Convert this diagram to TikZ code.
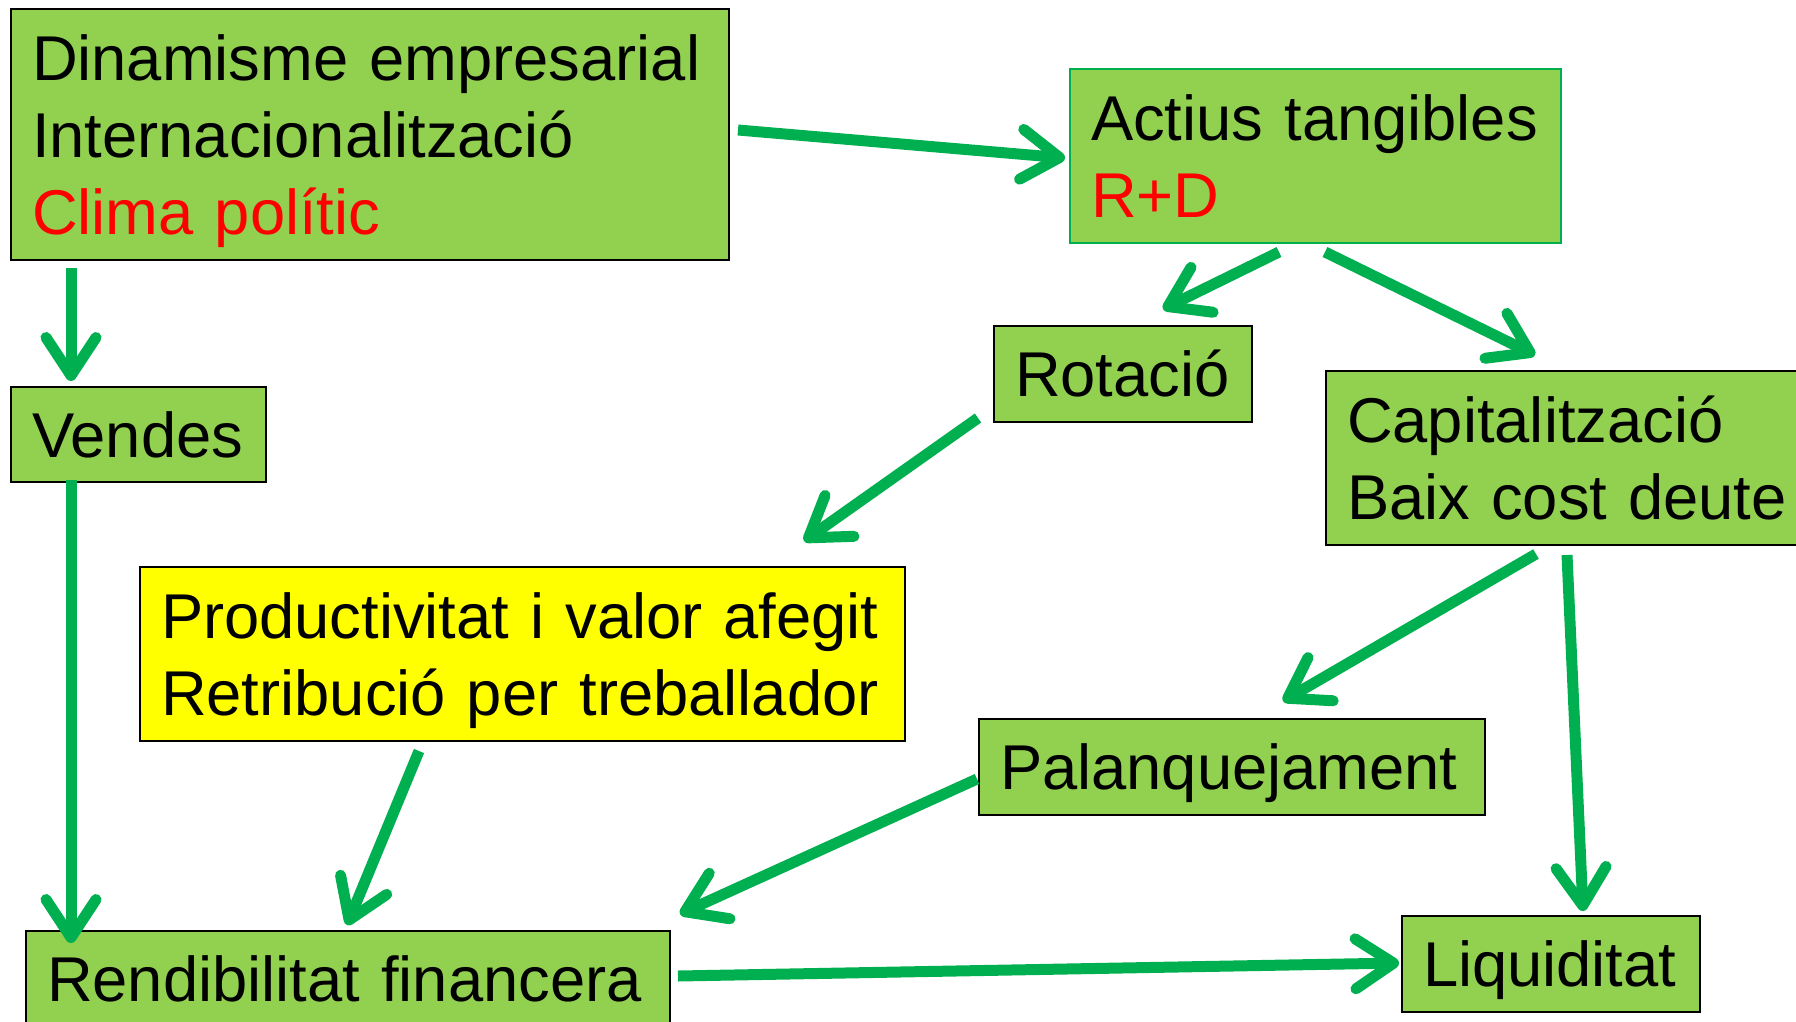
\documentclass[tikz,border=0pt]{standalone}
\usepackage{fontspec}
\setmainfont{Liberation Sans}
\usetikzlibrary{arrows.meta,calc}
\definecolor{boxgreen}{HTML}{92D050}
\definecolor{arrowgreen}{HTML}{00B050}
\definecolor{txtred}{HTML}{FF0000}
\definecolor{boxyellow}{HTML}{FFFF00}
\begin{document}
\begin{tikzpicture}[x=1pt,y=-1pt,
  box/.style={draw=black, line width=2pt, fill=boxgreen, anchor=north west,
    inner xsep=21pt, inner ysep=0pt, align=left,
    font=\fontsize{63.3}{77}\selectfont, text height=45pt, text depth=0pt},
  conn/.style={draw=arrowgreen, line width=11pt,
    -{Straight Barb[length=38pt,width=50pt,round]}}]
\useasboundingbox (0,0) rectangle (1796,1021);
\fill[white] (0,0) rectangle (1796,1021);
\node[box, text width=676pt, minimum height=251pt, text depth=154pt] (d) at (10,8)
  {Dinamisme empresarial\\Internacionalització\\\textcolor{txtred}{Clima polític}};
\node[box, draw=arrowgreen, text width=449pt, minimum height=174pt, text depth=77pt] (a) at (1069,68)
  {Actius tangibles\\\textcolor{txtred}{R+D}};
\node[box, text width=216pt, minimum height=96pt] (r) at (993,325) {Rotació};
\node[box, text width=470pt, minimum height=174pt, text depth=77pt] (c) at (1325,370)
  {Capitalització\\Baix cost deute};
\node[box, text width=213pt, minimum height=95pt] (v) at (10,386) {Vendes};
\node[box, fill=boxyellow, text width=723pt, minimum height=174pt, text depth=77pt] (p) at (139,566)
  {Productivitat i valor afegit\\Retribució per treballador};
\node[box, text width=464pt, minimum height=96pt] (l) at (978,718) {Palanquejament};
\node[box, text width=602pt, minimum height=96pt] (f) at (25,930) {Rendibilitat financera};
\node[box, text width=256pt, minimum height=96pt] (q) at (1401,915) {Liquiditat};
\draw[conn] ($(d.east)+(8,-4.5)$) -- ($(a.west)+(-4,2)$);
\draw[conn] ($(d.south west)+(61,7)$) -- ($(v.north west)+(61,-5)$);
\draw[conn] ($(a.south west)+(210,8)$) -- ($(r.north west)+(170,-16)$);
\draw[conn] ($(a.south west)+(256,8)$) -- ($(c.north west)+(210,-15)$);
\draw[conn] ($(r.south west)+(-15,-5)$) -- ($(p.north west)+(665,-25)$);
\draw[conn] ($(v.south west)+(61,-3)$) -- ($(f.north west)+(46,13)$);
\draw[conn] ($(p.south west)+(280,9)$) -- ($(f.north west)+(322,-5)$);
\draw[conn] ($(c.south west)+(211,8)$) -- ($(l.north west)+(305,-17)$);
\draw[conn] ($(c.south west)+(242,9)$) -- ($(q.north west)+(182,-4)$);
\draw[conn] ($(l.west)+(-1,12)$) -- ($(f.north east)+(9,-16)$);
\draw[conn] ($(f.east)+(7,-3)$) -- ($(q.west)+(-2,-1)$);
\end{tikzpicture}
\end{document}
